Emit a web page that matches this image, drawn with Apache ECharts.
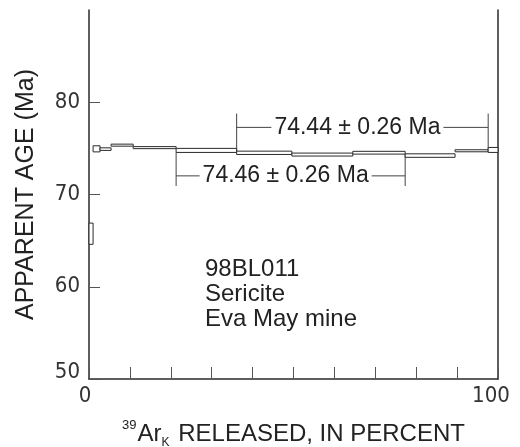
<!DOCTYPE html>
<html>
<head>
<meta charset="utf-8">
<script src="https://cdn.jsdelivr.net/npm/echarts@6/dist/echarts.min.js"></script>
<style>
  html, body { margin: 0; padding: 0; background: #fff; }
  #chart { width: 520px; height: 447px; }
</style>
</head>
<body>
<div id="chart"></div>
<script>
// Incremental heating steps: cumulative 39ArK released (%) at the start of each step
const stepStart = [0, 1.0, 2.7, 5.4, 10.8, 21.3, 36.1, 49.6, 64.5, 77.3, 89.5, 97.6];
// Apparent age of each step (Ma) and its 1-sigma uncertainty (Ma)
const stepAge = [65.75, 74.95, 74.92, 75.35, 75.08, 74.78, 74.52, 74.33, 74.53, 74.22, 74.74, 74.83];
const stepErr = [1.15, 0.33, 0.14, 0.11, 0.11, 0.22, 0.18, 0.16, 0.15, 0.19, 0.11, 0.27];

// Plateau ages: first and last step (index) included in each plateau
const plateauAge = [74.44, 74.46];
const plateauErr = [0.26, 0.26];
const plateauFirst = [6, 5];
const plateauLast = [10, 8];

// Axis tick values
const ageTicks = [50, 60, 70, 80];
const pctTicks = [0, 100];

const sampleLines = ['98BL011', 'Sericite', 'Eva May mine'];

const stepEnd = stepStart.slice(1).concat([100]);
const stepData = stepStart.map((s, i) => [s, stepEnd[i], stepAge[i], stepErr[i]]);

// side: +1 draws the bracket above the spectrum, -1 below
const bracketSide = [1, -1];
const bracketLevelGap = [2.5, 2.45];   // Ma between spectrum and bracket line
const bracketTipGap = [4.0, 3.55];     // Ma between spectrum and bracket tips
const bracketData = plateauAge.map((a, k) => {
  const f = plateauFirst[k], l = plateauLast[k], s = bracketSide[k];
  const anchorA = stepAge[f] + s * stepErr[f];
  const anchorB = stepAge[l] + s * stepErr[l];
  const base = (stepAge[f] + stepAge[l]) / 2 + s * (stepErr[f] + stepErr[l]) / 2;
  return [stepStart[f], stepEnd[l], anchorA, anchorB,
          base + s * bracketLevelGap[k], base + s * bracketTipGap[k], k];
});

const INK = '#2a2a2a';
const chart = echarts.init(document.getElementById('chart'), null, { renderer: 'canvas' });

function renderStep(params, api) {
  const p0 = api.coord([api.value(0), api.value(2) + api.value(3)]);
  const p1 = api.coord([api.value(1), api.value(2) - api.value(3)]);
  return {
    type: 'rect',
    shape: { x: p0[0], y: p0[1], width: p1[0] - p0[0], height: p1[1] - p0[1] },
    style: { fill: '#fff', stroke: INK, lineWidth: 1 }
  };
}

function renderBracket(params, api) {
  const x0 = api.value(0), x1 = api.value(1);
  const level = api.value(4), tip = api.value(5), k = api.value(6);
  const a0 = api.coord([x0, api.value(2)]);
  const t0 = api.coord([x0, tip]);
  const a1 = api.coord([x1, api.value(3)]);
  const t1 = api.coord([x1, tip]);
  const l0 = api.coord([x0, level]);
  const l1 = api.coord([x1, level]);
  const label = plateauAge[k].toFixed(2) + ' ± ' + plateauErr[k].toFixed(2) + ' Ma';
  return {
    type: 'group',
    children: [
      { type: 'line', shape: { x1: a0[0], y1: a0[1], x2: t0[0], y2: t0[1] }, style: { stroke: '#444', lineWidth: 1 } },
      { type: 'line', shape: { x1: a1[0], y1: a1[1], x2: t1[0], y2: t1[1] }, style: { stroke: '#444', lineWidth: 1 } },
      { type: 'line', shape: { x1: l0[0], y1: l0[1], x2: l1[0], y2: l1[1] }, style: { stroke: '#444', lineWidth: 1 } },
      {
        type: 'text',
        style: {
          text: label,
          x: (l0[0] + l1[0]) / 2 - 5,
          y: l0[1],
          align: 'center',
          verticalAlign: 'middle',
          font: '23px "Liberation Sans", Arial, sans-serif',
          fill: '#222',
          backgroundColor: '#fff',
          padding: [0, 3]
        }
      }
    ]
  };
}

const narrow = '"Liberation Sans Narrow", "DejaVu Sans Condensed", sans-serif';

chart.setOption({
  animation: false,
  backgroundColor: '#fff',
  grid: { left: 89, right: 22, top: 10, bottom: 68, containLabel: false, outerBoundsMode: 'none' },
  xAxis: {
    type: 'value', min: 0, max: 100, interval: 10,
    axisLine: { show: true, onZero: false, lineStyle: { color: INK, width: 1.5 } },
    axisTick: { show: true, inside: true, length: 12, lineStyle: { color: '#555', width: 1 } },
    splitLine: { show: false },
    axisLabel: {
      customValues: pctTicks,
      margin: 6,
      formatter: v => v === 0 ? '{a|0}' : '{b|' + v + '}',
      rich: {
        a: { fontFamily: narrow, fontSize: 22, color: '#333', padding: [0, 8, 0, 0] },
        b: { fontFamily: narrow, fontSize: 22, color: '#333', padding: [0, 14, 0, 0] }
      }
    },
    name: '{sup|39}{b|Ar}{sub|K}{b| RELEASED, IN PERCENT}',
    nameLocation: 'middle',
    nameGap: 40,
    nameTextStyle: {
      rich: {
        b: { fontFamily: 'Liberation Sans, Arial, sans-serif', fontSize: 24, color: '#222', lineHeight: 30, verticalAlign: 'middle' },
        sup: { fontFamily: 'Liberation Sans, Arial, sans-serif', fontSize: 13, color: '#222', lineHeight: 30, verticalAlign: 'top', padding: [0, 1, 0, 0] },
        sub: { fontFamily: 'Liberation Sans, Arial, sans-serif', fontSize: 12, color: '#222', lineHeight: 30, verticalAlign: 'bottom', padding: [0, 2, 0, 0] }
      }
    }
  },
  yAxis: [{
    type: 'value', min: 50, max: 90, interval: 10,
    axisLine: { show: true, onZero: false, lineStyle: { color: INK, width: 1.5 } },
    axisTick: { show: true, inside: true, length: 11, customValues: ageTicks, lineStyle: { color: '#555', width: 1 } },
    splitLine: { show: false },
    axisLabel: {
      customValues: ageTicks,
      margin: 9,
      formatter: v => v === 50 ? '{u|50}' : '{n|' + v + '}',
      rich: {
        n: { fontFamily: narrow, fontSize: 22, color: '#333' },
        u: { fontFamily: narrow, fontSize: 22, color: '#333', padding: [0, 0, 14, 0] }
      }
    },
    name: 'APPARENT AGE (Ma)',
    nameLocation: 'middle',
    nameRotate: 90,
    nameGap: 50,
    nameTextStyle: { fontFamily: 'Liberation Sans, Arial, sans-serif', fontSize: 25, color: '#222' }
  }, {
    type: 'value', min: 50, max: 90, position: 'right',
    axisLine: { show: true, onZero: false, lineStyle: { color: INK, width: 1.5 } },
    axisTick: { show: false }, axisLabel: { show: false }, splitLine: { show: false }
  }],
  graphic: [{
    type: 'text',
    left: 205,
    top: 257,
    style: {
      text: sampleLines.join('\n'),
      font: '24px "Liberation Sans", Arial, sans-serif',
      lineHeight: 25,
      fill: '#222'
    }
  }],
  series: [{
    type: 'custom',
    name: 'steps',
    renderItem: renderStep,
    data: stepData,
    encode: { x: [0, 1], y: [2] },
    clip: false,
    z: 3
  }, {
    type: 'custom',
    name: 'plateaus',
    renderItem: renderBracket,
    data: bracketData,
    encode: { x: [0, 1], y: [4, 5] },
    clip: false,
    z: 2
  }]
});
</script>
</body>
</html>
